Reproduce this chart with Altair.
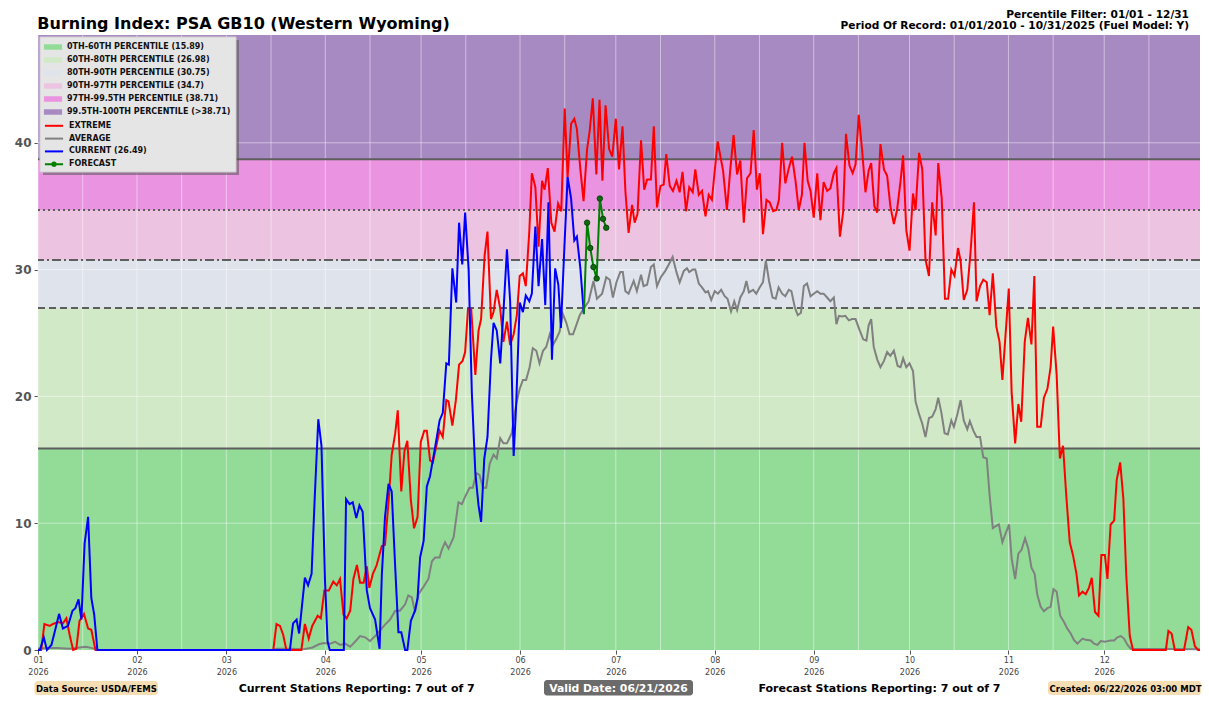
import altair as alt
import pandas as pd

W, H = 1162, 615
FONT = "DejaVu Sans"
Y_TOP = 48.5

TITLE = "Burning Index: PSA GB10 (Western Wyoming)"
INFO_1 = "Percentile Filter: 01/01 - 12/31"
INFO_2 = "Period Of Record: 01/01/2010 - 10/31/2025 (Fuel Model: Y)"
FOOT_SOURCE = "Data Source: USDA/FEMS"
FOOT_CURRENT = "Current Stations Reporting: 7 out of 7"
FOOT_VALID = "Valid Date: 06/21/2026"
FOOT_FORECAST = "Forecast Stations Reporting: 7 out of 7"
FOOT_CREATED = "Created: 06/22/2026 03:00 MDT"

BAND_LABELS = ["0TH-60TH PERCENTILE (15.89)", "60TH-80TH PERCENTILE (26.98)",
               "80TH-90TH PERCENTILE (30.75)", "90TH-97TH PERCENTILE (34.7)",
               "97TH-99.5TH PERCENTILE (38.71)", "99.5TH-100TH PERCENTILE (>38.71)"]
BAND_LOW = [0, 15.89, 26.98, 30.75, 34.7, 38.71]
BAND_HIGH = [15.89, 26.98, 30.75, 34.7, 38.71, Y_TOP]
BAND_COLORS = ["#93dc98", "#d1e9c7", "#dfe3ec", "#ecc3e0", "#ea93e1", "#a88ac3"]

SERIES_LABELS = ["EXTREME", "AVERAGE", "CURRENT (26.49)", "FORECAST"]
SERIES_COLORS = ["#ff0000", "#808080", "#0000ff", "#008000"]

PCT_VALUES = [15.89, 26.98, 30.75, 34.7, 38.71]

EXT_DAYS = [0, 1, 2, 3.7, 4.7, 6.3, 7.8, 8.9, 9.9, 11, 12, 13, 14.4, 15.7, 16.7, 18,
            73.7, 74.7, 75.8, 76.8, 77.8, 82.5, 83.6, 84.8, 85.9, 87.6, 88.6, 89.7, 91.1, 92.5, 93.6,
            94.6, 95.7, 96.7, 97.8, 98.8, 99.9, 100.9, 102, 103, 103.8, 104.9, 106.1, 107.7, 108.7,
            109.8, 110.8, 111.9, 112.7, 113.8, 114.8, 115.7, 116.8, 117.8, 118.9, 119.9, 121, 121.8,
            122.8, 123.7, 124.7, 125.8, 126.8, 127.9, 128.6, 129.8, 130.9, 131.9, 133, 133.8, 134.7,
            135.7, 137, 138, 138.8, 139.9, 140.8, 141.9, 142.7, 143.7, 144.8, 145.8, 146.9, 147.9,
            149, 150, 150.9, 151.9, 152.8, 153.9, 154.7, 155.8, 156.8, 157.9, 158.7, 159.7, 160.8,
            161.8, 162.9, 163.9, 165, 165.9, 167, 168, 168.8, 169.9, 170.9, 172, 172.8, 173.8, 174.9,
            175.9, 176.8, 177.8, 178.9, 179.9, 181, 182, 183.1, 184, 185, 186.1, 186.9, 187.8, 188.9,
            189.9, 190.8, 192, 192.9, 193.9, 195, 196, 196.8, 197.9, 198.9, 200, 201, 201.9, 203,
            204, 205.1, 205.9, 207, 208, 209.1, 210.1, 211.1, 212.9, 214.6, 215.8, 216.9, 217.9, 219,
            220, 221.1, 222.1, 223.2, 224.2, 225.2, 226.1, 227.1, 228.2, 229.2, 230.3, 231.3, 232.1,
            233.1, 234.1, 235.2, 236.2, 237.3, 238.3, 239.3, 240.1, 241.1, 242, 243, 244.1, 245.1,
            246.1, 247.2, 248.2, 249.3, 250.1, 251.2, 252.2, 253.1, 254.2, 255.2, 256.1, 257.1, 258.2,
            259.2, 260.2, 261, 262, 262.9, 263.9, 265, 266, 267, 268.1, 269.1, 270.2, 271, 272, 273,
            274.1, 274.9, 276, 277, 278, 279.1, 280.1, 281.2, 282, 283.1, 284.1, 285.1, 286.1, 287.1,
            288.2, 289, 290, 291.1, 292.1, 293.2, 294, 295.1, 296.1, 297.2, 298.1, 299.1, 300.2,
            301.2, 302.1, 303.1, 304.1, 305, 306.1, 307.1, 308, 309.1, 310.1, 311.2, 312.1, 313,
            314.1, 315.1, 316.2, 317.2, 318, 319.1, 320.1, 321.1, 322.1, 323.2, 324.2, 325.3, 326.1,
            327.2, 328.2, 329.2, 330.1, 331.1, 332.2, 333.1, 334.2, 335, 336, 337.1, 337.9, 339, 340,
            340.9, 342, 343, 353.3, 354.1, 355.1, 356.1, 359, 360.3, 361.3, 362.4, 363.4, 364]
EXT_VALS = [0, 0, 2.05, 1.9, 2.05, 2.2, 2.1, 2.5, 1.2, 0, 0.1, 2.3, 2.85, 1.7, 1.6, 0,
            0, 2.05, 1.9, 1.2, 0, 0, 2.05, 0.9, 1.9, 2.7, 2.5, 4.7, 4.7, 5.4, 5.1,
            5.6, 2.8, 2.5, 3.1, 5.6, 6.7, 5.3, 5.3, 6.6, 4.9, 6.0, 6.7, 8.2, 8.3,
            11.65, 15.4, 17.1, 18.9, 12.5, 15.7, 16.5, 11.8, 9.6, 10.5, 16.4, 17.3, 17.3,
            14.95, 14.8, 16.0, 17.3, 16.8, 19.7, 19.6, 17.7, 19.7, 22.5, 22.8, 23.5, 26.9,
            26.9, 21.7, 25.2, 26.1, 31.1, 33.0, 26.1, 26.65, 28.4, 26.9, 24.3, 25.9, 24.05,
            24.9, 26.4, 29.5, 29.7, 28.7, 33.0, 37.6, 36.5, 31.8, 37.0, 36.3, 38.0, 33.7,
            33.0, 35.2, 34.6, 42.7, 37.3, 41.5, 41.9, 41.1, 37.9, 35.4, 39.5, 40.9, 43.5, 37.5,
            43.4, 37.0, 42.95, 39.5, 38.9, 41.9, 37.9, 41.3, 36.2, 32.9, 35.1, 33.7, 34.4, 40.2,
            36.3, 37.1, 37.1, 41.3, 34.9, 36.6, 36.7, 39.1, 36.6, 36.2, 37.0, 36.1, 37.7, 34.6,
            36.5, 36.1, 37.9, 35.9, 36.2, 34.2, 35.9, 35.5, 40.1, 37.8, 34.7, 38.0, 40.6, 37.5,
            38.6, 33.7, 37.2, 37.6, 41.0, 36.3, 37.6, 32.8, 35.5, 35.3, 34.6, 34.7, 35.5,
            40.0, 36.8, 38.0, 38.9, 37.0, 34.7, 35.9, 40.0, 37.0, 36.2, 34.1, 37.6, 33.9,
            36.9, 36.2, 36.4, 37.6, 38.0, 32.6, 34.5, 40.7, 38.2, 37.6, 38.3, 42.2, 39.3,
            36.1, 37.8, 38.4, 35.0, 34.5, 39.9, 37.9, 37.4, 35.0, 33.6, 34.7, 37.0, 39.0, 33.1, 31.5,
            36.0, 34.7, 39.2, 37.9, 30.8, 29.5, 35.3, 32.7, 38.4, 35.6, 27.7, 27.7, 30.0, 29.5,
            31.7, 30.7, 27.6, 28.4, 31.3, 35.3, 27.5, 28.7, 29.2, 29.0, 26.4, 29.7, 25.5,
            24.3, 21.3, 24.9, 28.5, 20.3, 16.3, 19.4, 18.0, 24.3, 26.2, 24.1, 29.5, 17.6,
            17.6, 19.9, 20.6, 22.3, 25.5, 21.7, 15.1, 16.1, 12.2, 8.5, 7.5, 6.0, 4.3,
            4.6, 4.4, 4.9, 5.7, 3.0, 2.7, 7.5, 7.5, 5.6, 9.9, 10.2, 13.4, 14.8, 11.9,
            5.9, 1.1, 0, 0, 1.5, 1.3, 0, 0, 1.8, 1.6, 0.3, 0, 0]

AVG_DAYS = [0, 3, 6, 10, 13, 15, 17, 19, 73, 75, 79, 83, 86, 88, 89.5, 91.5, 93.1, 94.6, 96.2,
            97.8, 99.3, 100.9, 102.5, 104, 105.6, 107.2, 108.7, 110.3, 111.9, 113.4, 115, 116,
            117.1, 118.1, 119.2, 120.8, 122.3, 123.4, 124.4, 125.8, 126.5, 127.5, 128.6, 130.2,
            131.7, 132.8, 133.8, 135.2, 136.2, 137.3, 138.3, 139.4, 140.4, 141.5, 142.7, 143.7,
            144.8, 145.8, 146.9, 148.4, 149.8, 150.9, 151.9, 152.9, 154, 155, 156.1, 157.1, 158.2,
            159.2, 160.3, 161.3, 162.3, 163.4, 164.4, 165.5, 166.5, 167.6, 168.6, 169.7, 170.9,
            172.5, 174, 175.1, 176.7, 178, 179.1, 180.1, 181.2, 182.4, 183.2, 184, 185, 186.6,
            187.6, 188.9, 189.7, 190.8, 192, 192.9, 193.9, 195.1, 196.5, 197.6, 198.8, 200, 201,
            202.3, 203.3, 204, 205.1, 205.9, 207, 208, 209.1, 209.9, 210.9, 212, 213, 214, 215.1,
            216, 217.1, 218.1, 219, 220, 221.1, 221.9, 222.7, 224, 225, 226.1, 227.1, 228, 229,
            230.1, 231.1, 232, 233.1, 234.1, 235.2, 236, 237.1, 238, 239, 239.9, 240.9, 242, 243,
            244.1, 245.1, 246.1, 247.2, 248.2, 249.3, 250.1, 250.9, 251.9, 252.9, 254, 255, 256.1,
            257.4, 258.5, 259.5, 260.2, 261, 261.8, 262.9, 263.9, 265, 266, 267, 268.1, 269.3,
            270.2, 271, 272, 273, 274.1, 274.9, 276, 277, 278, 279.1, 280.1, 281.2, 282, 283, 284,
            285, 286.1, 286.9, 288, 289, 290, 291.1, 291.9, 293, 294, 295.1, 296.1, 297.2, 298.1,
            299.1, 300.2, 301, 302.1, 303.1, 304.2, 305, 306.1, 307.1, 308.1, 309.2, 310.2, 311.2,
            312.2, 313, 314.1, 315.1, 316.2, 317.2, 318.1, 319.1, 320.2, 321.4, 322.4, 323.5,
            324.5, 325.6, 327.2, 328.2, 329.8, 330.8, 331.9, 332.9, 334.2, 335, 336, 337.1, 338.1,
            339.2, 340.2, 341.3, 342.3, 364]
AVG_VALS = [0.1, 0.15, 0.15, 0.1, 0.2, 0.25, 0.15, 0, 0, 0.1, 0.1, 0.05, 0.2, 0.45, 0.55, 0.5, 0.65,
            0.4, 0.5, 0.25, 0.65, 1.1, 1.0, 0.7, 1.1, 1.55, 2.0, 2.4, 3.1, 3.1, 3.6, 4.3, 4.15,
            3.0, 4.4, 5.0, 5.6, 7.0, 7.3, 7.3, 7.9, 8.5, 8.0, 8.9, 11.65, 11.5, 12.1, 12.8, 12.8,
            13.95, 13.8, 12.8, 12.8, 14.7, 15.4, 15.1, 16.7, 16.3, 16.3, 17.1, 19.4, 20.6, 21.3,
            21.3, 22.3, 23.8, 23.6, 22.6, 23.6, 23.9, 24.9, 24.05, 24.5, 25.1, 26.5, 25.8, 24.9,
            24.9, 25.6, 26.4, 26.9, 27.5, 29.1, 27.7, 28.1, 29.4, 29.2, 27.8, 29.0, 29.8, 29.8,
            28.3, 28.1, 29.1, 28.3, 29.6, 28.7, 28.8, 30.2, 30.4, 28.7, 29.4, 29.9, 30.4, 31.0,
            29.8, 29.0, 29.9, 30.1, 29.8, 30.0, 30.0, 28.9, 28.6, 28.2, 28.3, 27.6, 28.3, 28.1,
            28.4, 27.9, 27.7, 26.7, 27.5, 26.8, 27.8, 28.3, 29.1, 28.2, 28.4, 28.1, 28.6, 29.0,
            30.7, 29.1, 27.8, 27.7, 28.6, 28.1, 27.9, 28.4, 28.3, 27.0, 26.4, 26.6, 28.7, 28.9,
            27.9, 28.1, 28.3, 28.1, 28.1, 27.8, 27.5, 27.8, 25.7, 26.35, 26.3, 26.35, 26.0, 26.1,
            26.1, 25.2, 24.5, 24.4, 25.6, 26.1, 23.9, 22.9, 22.3, 22.8, 23.5, 23.2, 23.6, 22.4,
            22.3, 23.0, 22.3, 22.6, 22.0, 19.6, 18.6, 17.85, 16.8, 18.3, 18.4, 19.0, 19.9, 18.7,
            17.1, 17.0, 18.1, 17.6, 18.6, 19.7, 18.1, 17.4, 18.05, 17.3, 16.8, 16.8, 15.2, 15.1,
            12.2, 9.6, 9.8, 9.9, 8.5, 9.2, 9.9, 7.2, 5.6, 7.6, 7.9, 8.8, 8.0, 6.5, 6.0, 4.4, 3.4,
            3.05, 3.3, 3.4, 4.8, 4.6, 2.7, 2.2, 1.7, 1.3, 0.8, 0.5, 0.9, 0.8, 0.75, 0.5, 0.4, 0.7,
            0.65, 0.7, 0.75, 0.75, 1.0, 1.1, 0.9, 0.4, 0.1, 0.05]

CUR_DAYS = [0, 0.6, 1.8, 2.8, 4.2, 5.4, 6.6, 7.8, 9.4, 10.8, 11.7, 12.7, 13.6, 14.6, 15.7, 16.7,
            17.6, 18.6, 78.9, 79.9, 81, 81.8, 83.6, 84.6, 85.7, 86.7, 87.8, 88.8, 89.9, 90.7, 91.4,
            95.8, 96.5, 97.6, 98.6, 99.7, 100.7, 101.7, 103, 104, 105.6, 107, 107.7, 108.7, 109.8,
            110.8, 111.9, 112.9, 113.8, 115, 115.7, 116.8, 118.1, 118.9, 119.7, 120.8, 121.8,
            122.8, 124.4, 125.8, 126.8, 127.9, 128.7, 129.8, 131, 131.9, 132.9, 133.8, 134.9,
            135.9, 137, 138, 138.8, 139.8, 140.8, 141.9, 142.7, 143.7, 144.8, 145.8, 146.9, 147.9,
            149, 149.8, 150.9, 151.9, 152.8, 153.9, 154.7, 155.8, 156.8, 157.9, 158.9, 159.9, 161,
            162, 163, 163.8, 164.9, 165.9, 167, 168, 168.8, 169.9, 171]
CUR_VALS = [0, 0, 1.0, 0, 0.4, 1.6, 2.85, 1.7, 1.9, 3.1, 3.3, 4.0, 2.4, 8.4, 10.5, 4.1,
            2.8, 0, 0, 2.1, 2.4, 1.3, 5.7, 5.1, 6.0, 12.1, 18.2, 16.1, 5.5, 0.7, 0,
            0, 11.9, 11.5, 11.65, 10.4, 11.4, 10.9, 4.7, 3.3, 2.4, 0.1, 5.9, 10.5, 13.1,
            12.5, 6.5, 1.4, 1.4, 0, 0, 2.3, 3.1, 4.1, 7.3, 8.6, 12.9,
            13.7, 16.0, 18.1, 18.7, 22.6, 22.5, 30.1, 27.4, 33.7, 30.4, 34.5, 30.0,
            20.3, 13.95, 11.4, 10.1, 15.1, 16.8, 22.9, 25.8, 25.2, 22.6, 26.65, 31.6, 27.5,
            15.3, 19.4, 27.4, 26.65, 27.95, 27.5, 28.1, 33.4, 28.7, 32.4, 27.2, 35.3, 22.9,
            30.1, 28.8, 25.4, 31.8, 37.3, 35.6, 32.3, 32.6, 30.1, 26.49]

FC_DAYS = [171, 172, 173, 174, 175, 176, 177, 178]
FC_VALS = [26.49, 33.7, 31.7, 30.2, 29.3, 35.6, 34.0, 33.3]

BASE = pd.Timestamp("2026-01-01")


def iso(d):
    return (BASE + pd.Timedelta(days=float(d))).strftime("%Y-%m-%dT%H:%M:%SZ")


def series_df(days, vals, name):
    return pd.DataFrame({"date": [iso(d) for d in days], "value": vals, "series": name, "day": days})


xscale = alt.Scale(type="utc", domain=[alt.DateTime(year=2026, month=1, date=1, utc=True),
                                        alt.DateTime(year=2026, month=12, date=31, utc=True)])
yscale = alt.Scale(domain=[0, Y_TOP], nice=False, zero=False)
fill_scale = alt.Scale(domain=BAND_LABELS, range=BAND_COLORS)
stroke_scale = alt.Scale(domain=SERIES_LABELS, range=SERIES_COLORS)

RECT = "M-1.65,-0.5H1.65V0.5H-1.65Z"
LINE = "M-1.65,0H1.65"
FCSYM = "M-1.65,0H1.65M-0.3,0A0.3,0.3,0,1,0,0.3,0A0.3,0.3,0,1,0,-0.3,0Z"
shape_scale = alt.Scale(domain=SERIES_LABELS, range=[LINE, LINE, LINE, FCSYM])

month_ticks = [alt.DateTime(year=2026, month=m, date=1, utc=True) for m in range(1, 13)]
xaxis = alt.Axis(values=month_ticks, title=None, grid=False, domain=False,
                 labelExpr="[utcFormat(datum.value, '%m'), utcFormat(datum.value, '%Y')]",
                 labelFont=FONT, labelFontSize=8, labelColor="#444444", labelLineHeight=12,
                 labelFlush=False, labelOverlap=False, labelPadding=2,
                 tickSize=4, tickColor="#555555", tickWidth=1)
yaxis = alt.Axis(values=[0, 10, 20, 30, 40], title=None, grid=False, domain=False,
                 labelFont=FONT, labelFontSize=12, labelFontWeight="bold", labelColor="#555555",
                 labelPadding=3, tickSize=4, tickColor="#555555", tickWidth=1)


def X(field):
    return alt.X(field, type="temporal", scale=xscale, axis=xaxis)


def Y(field):
    return alt.Y(field, type="quantitative", scale=yscale, axis=yaxis)


ROW = 12.8
LEG_X, LEG_Y = 9.5, 6.5
common_leg = dict(title=None, orient="none", padding=0, labelFont=FONT, labelFontSize=8,
                  labelFontWeight="bold", labelColor="#111111", symbolSize=121,
                  labelOffset=8.5, legendX=LEG_X, labelLimit=400)
legend_bands = alt.Legend(legendY=LEG_Y, symbolType=RECT, symbolStrokeWidth=0,
                          symbolOpacity=1, rowPadding=3.0, **common_leg)
legend_lines = alt.Legend(legendY=LEG_Y + 6 * ROW + 1, symbolStrokeWidth=2, symbolOpacity=1,
                          rowPadding=1.8, **common_leg)

band_df = pd.DataFrame({"label": BAND_LABELS, "low": BAND_LOW, "high": BAND_HIGH})
bands = alt.Chart(band_df).mark_rect().encode(
    y=Y("low"), y2="high", x=alt.value(0), x2=alt.value(W),
    fill=alt.Fill("label:N", scale=fill_scale, legend=legend_bands))

grid_dates = []
for m in range(1, 13):
    grid_dates.append(pd.Timestamp(2026, m, 1).strftime("%Y-%m-%dT00:00:00Z"))
    grid_dates.append(pd.Timestamp(2026, m, 15).strftime("%Y-%m-%dT00:00:00Z"))
grid_v = alt.Chart(pd.DataFrame({"date": grid_dates})).mark_rule(
    color="white", strokeWidth=1, opacity=0.45).encode(x=X("date"))
grid_h = alt.Chart(pd.DataFrame({"v": [10, 20, 30, 40]})).mark_rule(
    color="white", strokeWidth=1, opacity=0.45).encode(y=Y("v"))

dashes = [[1, 0], [7, 4], [9, 3, 2, 3], [2, 3], [1, 0]]
pct_layers = []
for v, d in zip(PCT_VALUES, dashes):
    pct_layers.append(alt.Chart(pd.DataFrame({"v": [v]})).mark_rule(
        color="#5e5e5e", strokeWidth=2, strokeDash=d).encode(y=Y("v")))

ext_df = series_df(EXT_DAYS, EXT_VALS, "EXTREME")
avg_df = series_df(AVG_DAYS, AVG_VALS, "AVERAGE")
cur_df = series_df(CUR_DAYS, CUR_VALS, "CURRENT (26.49)")
fc_df = series_df(FC_DAYS, FC_VALS, "FORECAST")

legend_driver = alt.Chart(fc_df).mark_point(filled=False, strokeWidth=2, opacity=1).encode(
    x=X("date"), y=Y("value"),
    stroke=alt.Stroke("series:N", scale=stroke_scale, legend=legend_lines),
    shape=alt.Shape("series:N", scale=shape_scale, legend=legend_lines),
).transform_filter("false")


def line(df):
    return alt.Chart(df).mark_line(strokeWidth=2).encode(
        x=X("date"), y=Y("value"),
        stroke=alt.Stroke("series:N", scale=stroke_scale, legend=legend_lines))


fc_pts = alt.Chart(fc_df[fc_df["day"] > FC_DAYS[0]]).mark_point(
    filled=True, size=30, fill="#0b6e0b", stroke="#053305", strokeWidth=0.8, opacity=1
).encode(x=X("date"), y=Y("value"))


def txt(s, x, y, size=10, align="center", color="black", weight="bold", baseline="middle"):
    return alt.Chart(pd.DataFrame({"t": [s]})).mark_text(
        font=FONT, fontSize=size, fontWeight=weight, align=align, baseline=baseline, color=color
    ).encode(x=alt.value(x), y=alt.value(y), text="t:N")


def box(x0, x1, y0, y1, color, radius=3, opacity=1.0):
    return alt.Chart(pd.DataFrame({"a": [0]})).mark_rect(
        color=color, cornerRadius=radius, opacity=opacity).encode(
        x=alt.value(x0), x2=alt.value(x1), y=alt.value(y0), y2=alt.value(y1))


legend_frame = [
    box(5, 201, 5, 140, "#555555", radius=0, opacity=0.55),
    alt.Chart(pd.DataFrame({"a": [0]})).mark_rect(
        fill="#e5e5e5", stroke="#cfcfcf", strokeWidth=1).encode(
        x=alt.value(2), x2=alt.value(198), y=alt.value(2), y2=alt.value(137)),
]

annotations = [
    txt(TITLE, -0.7, -6, size=16, align="left", baseline="alphabetic"),
    txt(INFO_1, 1151, -17, size=10.6, align="right", baseline="alphabetic"),
    txt(INFO_2, 1151, -6, size=10.6, align="right", baseline="alphabetic"),
    box(-3.5, 120, 646, 660, "#f5deb3"),
    txt(FOOT_SOURCE, 58.5, 653.5, size=8.5),
    txt(FOOT_CURRENT, 318.7, 653.5, size=11),
    box(506, 655, 645, 660.5, "#6b6b6b"),
    txt(FOOT_VALID, 580.5, 653.5, size=10.8, color="white"),
    txt(FOOT_FORECAST, 841.5, 653.5, size=11),
    box(1010, 1163, 646, 660, "#f5deb3"),
    txt(FOOT_CREATED, 1087.5, 653.5, size=8.5),
]

layers = ([bands, grid_v, grid_h] + pct_layers +
          [legend_driver, line(avg_df), line(ext_df), line(cur_df), line(fc_df), fc_pts] +
          legend_frame + annotations)

chart = alt.layer(*layers).properties(
    width=W, height=H,
    padding={"left": 38, "top": 35, "right": 9, "bottom": 53},
    autosize=alt.AutoSizeParams(type="none"),
    background="white",
).configure_view(stroke=None)

chart.save("out.html", embed_options={"renderer": "svg", "actions": False})
